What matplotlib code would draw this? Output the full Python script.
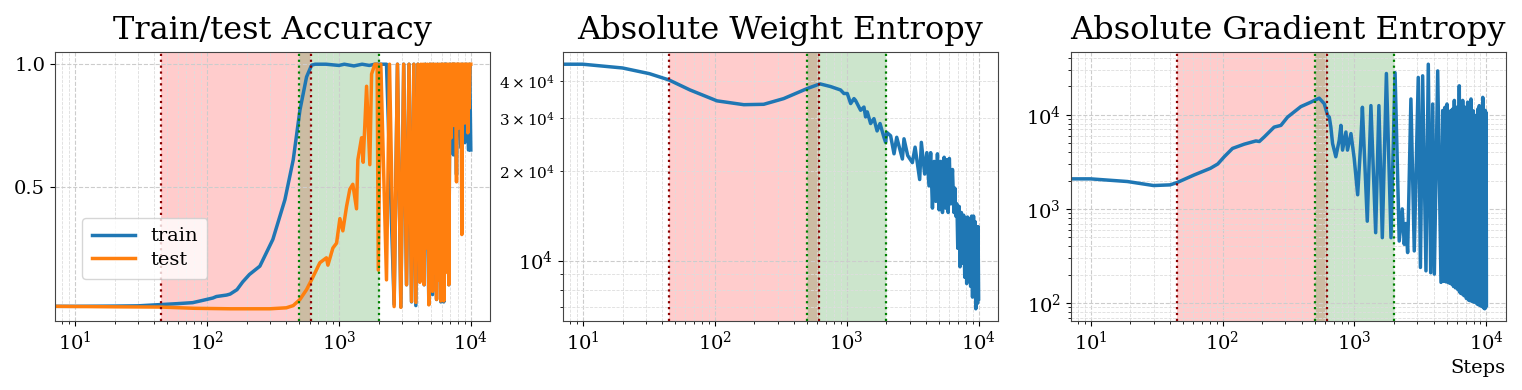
import matplotlib
matplotlib.use("Agg")
import matplotlib.pyplot as plt

plt.rcParams['font.family'] = 'DejaVu Serif'
plt.rcParams['mathtext.fontset'] = 'dejavuserif'

# phase boundaries (steps)
red_start, red_end = 45, 620
green_start, green_end = 500, 2000

# --- train/test accuracy ---
train_steps = [7, 10, 20, 30, 44, 60, 78, 89, 111, 118, 141, 150, 169, 187, 210, 252, 316, 390,
               451, 507, 569, 621, 660, 800, 1000, 1100, 1300, 1500, 1700, 1874,
               1990, 2296, 2623, 2780, 2950, 3100, 3258, 3400, 3554, 3700, 3831, 3970,
               4430, 4520, 4808, 4900, 5129, 5210, 5500, 5600, 5926, 6010, 6241, 6350,
               6430, 6500, 6810, 6950, 7200, 7300, 7380, 7500, 7790, 7950, 8400, 8600,
               9000, 9200, 9600, 9800, 10000]
train_acc = [0.012, 0.012, 0.013, 0.014, 0.019, 0.023, 0.027, 0.034, 0.046, 0.052, 0.058, 0.062, 0.080, 0.112, 0.142, 0.176, 0.285, 0.447,
             0.61, 0.813, 0.948, 0.996, 1.0, 1.0, 0.995, 1.0, 0.993, 1.0, 0.995, 1.0,
             1.0, 1.0, 0.02, 1.0, 0.01, 1.0, 0.10, 1.0, 0.03, 1.0, 0.015, 1.0,
             0.10, 1.0, 0.02, 1.0, 0.06, 1.0, 0.04, 1.0, 0.03, 1.0, 0.03, 1.0,
             0.50, 1.0, 0.10, 1.0, 0.64, 1.0, 0.63, 1.0, 0.55, 1.0, 0.66, 1.0,
             0.68, 1.0, 0.65, 1.0, 0.65]

test_steps = [7, 20, 45, 80, 150, 300, 400, 451, 507, 569, 621, 718, 805, 826, 901, 961, 1018, 1072,
              1144, 1211, 1276, 1361, 1393, 1486, 1528, 1622, 1717, 1770, 1874, 1950,
              1990, 2080, 2296, 2420, 2623, 2780, 2950, 3100, 3258, 3400, 3554, 3700, 3831, 3970,
              4110, 4190, 4270, 4350, 4430, 4520, 4610, 4700, 4808, 4900, 4990, 5060, 5129, 5210,
              5300, 5400, 5500, 5600, 5700, 5810, 5926, 6010, 6100, 6170, 6241, 6350, 6450, 6560,
              6680, 6750, 6810, 6950, 7020, 7100, 7170, 7250, 7320, 7400, 7480, 7550, 7650, 7790,
              7870, 7950, 8030, 8100, 8200, 8300, 8420, 8550, 8650, 8750, 8880, 9000, 9100, 9200,
              9350, 9490, 9600, 9700, 9850, 10000]
test_acc = [0.012, 0.010, 0.009, 0.004, 0.002, 0.002, 0.006, 0.015, 0.04, 0.08, 0.12, 0.19, 0.21, 0.18, 0.25, 0.27, 0.37, 0.32,
            0.42, 0.49, 0.51, 0.41, 0.61, 0.70, 0.60, 0.91, 0.59, 0.96, 1.0, 1.0,
            0.16, 1.0, 0.12, 1.0, 0.011, 1.0, 0.008, 1.0, 0.10, 1.0, 0.032, 1.0, 0.028, 1.0,
            0.11, 1.0, 0.30, 1.0, 0.10, 1.0, 0.25, 1.0, 0.018, 1.0, 0.20, 1.0, 0.073, 1.0,
            0.15, 1.0, 0.04, 1.0, 0.12, 1.0, 0.034, 1.0, 0.20, 1.0, 0.034, 1.0, 0.15, 1.0,
            0.30, 1.0, 0.10, 1.0, 0.80, 0.70, 1.0, 0.78, 1.0, 0.75, 1.0, 0.82, 1.0, 0.52,
            1.0, 0.78, 1.0, 0.74, 1.0, 0.80, 1.0, 0.305, 1.0, 0.78, 1.0, 0.76, 1.0, 0.80,
            1.0, 0.72, 1.0, 0.82, 1.0, 1.0]

# --- absolute weight entropy ---
weight_steps = [7, 10, 20, 32, 45, 65, 104, 166, 235, 333, 501, 627, 755, 899, 953, 1011, 1072, 1136,
                1168, 1275, 1352, 1391, 1433, 1518, 1609, 1700, 1790, 1915, 1974, 2010, 2153, 2285,
                2395, 2644, 2719, 2900, 3146, 3300, 3574, 3681, 3900, 4050, 4207, 4330, 4467,
                4600, 4740, 4874, 5020, 5165, 5321, 5480, 5620, 5741, 5880, 6000, 6150, 6337, 6500,
                6600, 6714, 6850, 6950, 7118, 7230, 7400, 7550, 7700, 7850, 7994, 8120, 8235, 8400,
                8560, 8700, 8850, 8990, 9150, 9300, 9420, 9520, 9650, 9810, 9900, 10000]
weight_ent = [45500, 45500, 44200, 42300, 40300, 37300, 34300, 33300, 33400, 34900, 37700, 39100, 38300, 37300, 36300, 36300, 33600, 34900,
              34400, 31900, 32700, 30300, 31500, 28800, 29900, 27200, 28800, 25900, 24900, 26900, 26200, 22800,
              25900, 21900, 25600, 22500, 21300, 24000, 18700, 24900, 19500, 23000, 17800, 23000, 15000,
              21500, 15800, 22800, 14800, 21500, 14500, 22200, 15000, 21800, 14500, 22000, 15500, 20200, 14500,
              17500, 14100, 15500, 11000, 15200, 9540, 14500, 9800, 14200, 8800, 13900, 8380, 14000, 8600,
              13800, 8200, 14100, 7550, 14100, 7800, 13500, 6900, 13000, 7200, 13000, 7450]

# --- absolute gradient entropy ---
grad_steps = [7, 10, 19, 30, 40, 45, 61, 81, 92, 103, 119, 146, 179, 190, 207, 246, 277, 311, 392, 467,
              540, 590, 626, 644, 662, 682, 722, 766, 789, 812, 861, 885, 940, 995, 1057, 1118, 1148,
              1250, 1332, 1447, 1531, 1625, 1745, 1891, 2030, 2183, 2300, 2383, 2450, 2528, 2677, 2838,
              3043, 3160, 3285, 3481, 3625, 3780, 3914, 4029, 4272, 4525,
              4661, 4750, 4850, 4940, 5023, 5140, 5250, 5300, 5384, 5470, 5550, 5630, 5710, 5830,
              5950, 6090, 6227, 6330, 6450, 6530, 6607, 6750, 6900, 7050, 7209, 7300, 7420, 7520,
              7640, 7800, 7950, 8090, 8340, 8470, 8600, 8700, 8830, 8970, 9100, 9240, 9380, 9500,
              9600, 9700, 9810, 9880, 9950, 10000]
grad_ent = [2085, 2085, 1954, 1771, 1800, 1900, 2296, 2700, 3000, 3580, 4390, 4870, 5270, 5200, 5810, 7390, 7710, 9440, 12200, 13600,
            15000, 13100, 9840, 9440, 7400, 4950, 3580, 5360, 7710, 4210, 6560, 4210, 6310, 3440, 1413, 5360, 12000,
            741, 12500, 559, 12500, 495, 27400, 495, 28000, 456, 1000, 421, 700, 344, 14700, 358,
            24900, 239, 25900, 220, 34400, 210, 13000, 203, 29200, 166,
            11100, 170, 12000, 168, 13000, 165, 10500, 162, 11100, 158, 11500, 150, 14200, 145,
            12000, 138, 20300, 128, 12500, 125, 14200, 120, 12000, 112, 13600, 108, 12500, 106,
            14700, 104, 11000, 102, 9840, 98, 11500, 96, 12500, 94, 11000, 92, 15300, 89,
            11000, 87, 11100, 90, 10500, 95]


def shade(ax):
    ax.axvspan(red_start, red_end, color='red', alpha=0.2, lw=0)
    ax.axvspan(green_start, green_end, color='green', alpha=0.2, lw=0)
    for x in (red_start, red_end):
        ax.axvline(x, color='darkred', linestyle=':', linewidth=1.6)
    for x in (green_start, green_end):
        ax.axvline(x, color='green', linestyle=':', linewidth=1.6)


def style(ax):
    ax.set_xscale('log')
    ax.set_xlim(7.05, 14000)
    ax.grid(which='major', color='#cccccc', linestyle='--', linewidth=0.8)
    ax.grid(which='minor', color='#dddddd', linestyle='--', linewidth=0.6)
    ax.tick_params(which='major', labelsize=14)
    for s in ax.spines.values():
        s.set_color('#444444')


fig, axs = plt.subplots(1, 3, figsize=(15.22, 3.9), dpi=100)
fig.subplots_adjust(left=0.0361, right=0.9893, bottom=0.1769, top=0.8667, wspace=0.167)

lw = 2.5

ax = axs[0]
ax.plot(train_steps, train_acc, color='#1f77b4', linewidth=lw, label='train')
ax.plot(test_steps, test_acc, color='#ff7f0e', linewidth=lw, label='test')
shade(ax)
style(ax)
ax.set_yticks([0.5, 1.0])
ax.set_title('Train/test Accuracy', fontsize=23, pad=9)
ax.legend(loc='lower left', bbox_to_anchor=(0.04, 0.12), fontsize=14,
          handlelength=2.2, borderpad=0.5, labelspacing=0.3)

ax = axs[1]
ax.plot(weight_steps, weight_ent, color='#1f77b4', linewidth=lw)
ax.set_yscale('log')
shade(ax)
style(ax)
ax.tick_params(axis='y', which='minor', labelsize=11)
ax.set_title('Absolute Weight Entropy', fontsize=23, pad=9)

ax = axs[2]
ax.plot(grad_steps, grad_ent, color='#1f77b4', linewidth=lw)
ax.set_yscale('log')
shade(ax)
style(ax)
ax.set_title('Absolute Gradient Entropy', fontsize=23, pad=9)
ax.set_xlabel('Steps', loc='right', fontsize=14)

fig.savefig('out.png', dpi=100)
